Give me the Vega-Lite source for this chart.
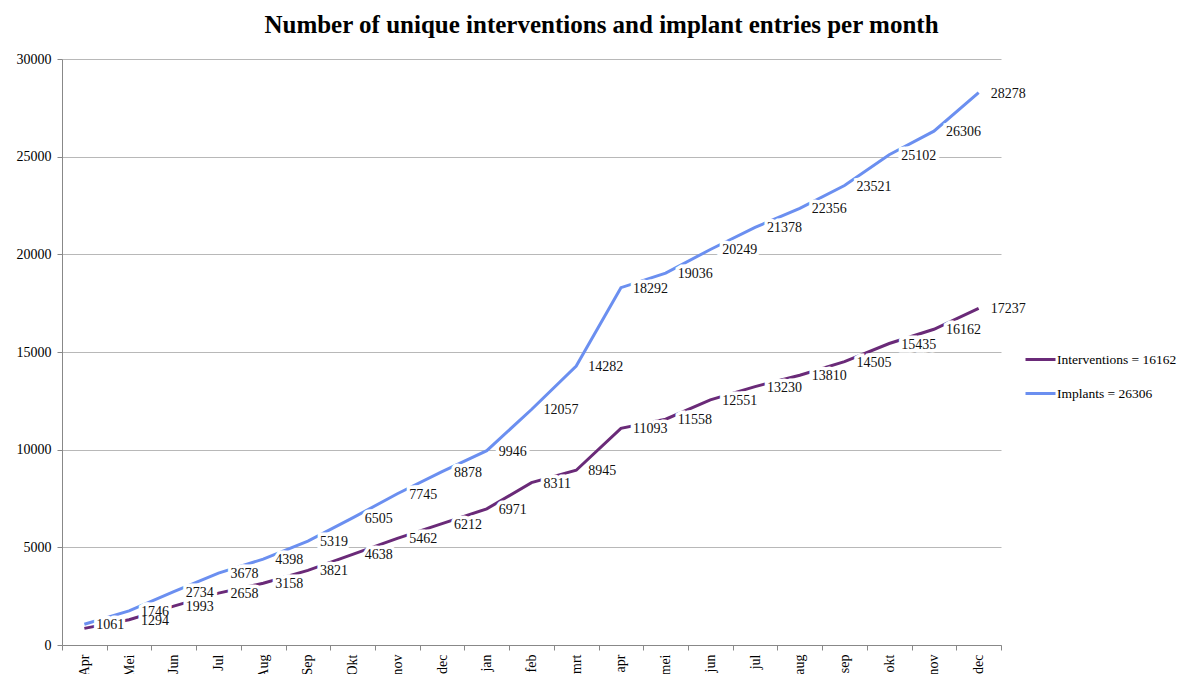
{
  "$schema": "https://vega.github.io/schema/vega-lite/v6.json",
  "autosize": {"type": "none"},
  "width": 939,
  "height": 586,
  "padding": {"left": 62, "top": 59, "right": 183, "bottom": 29},
  "background": "white",
  "title": {
    "text": "Number of unique interventions and implant entries per month",
    "font": "Liberation Serif",
    "fontSize": 25,
    "fontWeight": "bold",
    "color": "#000000",
    "anchor": "middle",
    "dx": 70,
    "offset": 14
  },
  "config": {
    "view": {"stroke": null},
    "font": "Liberation Serif"
  },
  "data": {
    "values": [
      {"i": 0, "month": "Apr", "series": "Interventions", "value": 850, "show": false},
      {"i": 1, "month": "Mei", "series": "Interventions", "value": 1294, "show": true},
      {"i": 2, "month": "Jun", "series": "Interventions", "value": 1993, "show": true},
      {"i": 3, "month": "Jul", "series": "Interventions", "value": 2658, "show": true},
      {"i": 4, "month": "Aug", "series": "Interventions", "value": 3158, "show": true},
      {"i": 5, "month": "Sep", "series": "Interventions", "value": 3821, "show": true},
      {"i": 6, "month": "Okt", "series": "Interventions", "value": 4638, "show": true},
      {"i": 7, "month": "nov", "series": "Interventions", "value": 5462, "show": true},
      {"i": 8, "month": "dec", "series": "Interventions", "value": 6212, "show": true},
      {"i": 9, "month": "jan", "series": "Interventions", "value": 6971, "show": true},
      {"i": 10, "month": "feb", "series": "Interventions", "value": 8311, "show": true},
      {"i": 11, "month": "mrt", "series": "Interventions", "value": 8945, "show": true},
      {"i": 12, "month": "apr", "series": "Interventions", "value": 11093, "show": true},
      {"i": 13, "month": "mei", "series": "Interventions", "value": 11558, "show": true},
      {"i": 14, "month": "jun", "series": "Interventions", "value": 12551, "show": true},
      {"i": 15, "month": "jul", "series": "Interventions", "value": 13230, "show": true},
      {"i": 16, "month": "aug", "series": "Interventions", "value": 13810, "show": true},
      {"i": 17, "month": "sep", "series": "Interventions", "value": 14505, "show": true},
      {"i": 18, "month": "okt", "series": "Interventions", "value": 15435, "show": true},
      {"i": 19, "month": "nov", "series": "Interventions", "value": 16162, "show": true},
      {"i": 20, "month": "dec", "series": "Interventions", "value": 17237, "show": true},
      {"i": 0, "month": "Apr", "series": "Implants", "value": 1061, "show": true},
      {"i": 1, "month": "Mei", "series": "Implants", "value": 1746, "show": true},
      {"i": 2, "month": "Jun", "series": "Implants", "value": 2734, "show": true},
      {"i": 3, "month": "Jul", "series": "Implants", "value": 3678, "show": true},
      {"i": 4, "month": "Aug", "series": "Implants", "value": 4398, "show": true},
      {"i": 5, "month": "Sep", "series": "Implants", "value": 5319, "show": true},
      {"i": 6, "month": "Okt", "series": "Implants", "value": 6505, "show": true},
      {"i": 7, "month": "nov", "series": "Implants", "value": 7745, "show": true},
      {"i": 8, "month": "dec", "series": "Implants", "value": 8878, "show": true},
      {"i": 9, "month": "jan", "series": "Implants", "value": 9946, "show": true},
      {"i": 10, "month": "feb", "series": "Implants", "value": 12057, "show": true},
      {"i": 11, "month": "mrt", "series": "Implants", "value": 14282, "show": true},
      {"i": 12, "month": "apr", "series": "Implants", "value": 18292, "show": true},
      {"i": 13, "month": "mei", "series": "Implants", "value": 19036, "show": true},
      {"i": 14, "month": "jun", "series": "Implants", "value": 20249, "show": true},
      {"i": 15, "month": "jul", "series": "Implants", "value": 21378, "show": true},
      {"i": 16, "month": "aug", "series": "Implants", "value": 22356, "show": true},
      {"i": 17, "month": "sep", "series": "Implants", "value": 23521, "show": true},
      {"i": 18, "month": "okt", "series": "Implants", "value": 25102, "show": true},
      {"i": 19, "month": "nov", "series": "Implants", "value": 26306, "show": true},
      {"i": 20, "month": "dec", "series": "Implants", "value": 28278, "show": true}
    ]
  },
  "encoding": {
    "x": {
      "field": "i",
      "type": "ordinal",
      "scale": {"paddingInner": 0, "paddingOuter": 0},
      "axis": {
        "title": null,
        "labelExpr": "['Apr','Mei','Jun','Jul','Aug','Sep','Okt','nov','dec','jan','feb','mrt','apr','mei','jun','jul','aug','sep','okt','nov','dec'][datum.value]",
        "labelAngle": -90,
        "labelFont": "Liberation Serif",
        "labelFontSize": 14,
        "labelColor": "#000000",
        "labelPadding": 4,
        "tickBand": "extent",
        "tickColor": "#888888",
        "tickSize": 5,
        "domainColor": "#888888",
        "grid": false
      }
    },
    "y": {
      "field": "value",
      "type": "quantitative",
      "scale": {"domain": [0, 30000], "nice": false},
      "axis": {
        "title": null,
        "values": [0, 5000, 10000, 15000, 20000, 25000, 30000],
        "format": "d",
        "labelFont": "Liberation Serif",
        "labelFontSize": 14,
        "labelColor": "#000000",
        "labelPadding": 6,
        "tickColor": "#888888",
        "tickSize": 5,
        "domainColor": "#888888",
        "gridColor": "#b8b8b8",
        "gridWidth": 1
      }
    }
  },
  "layer": [
    {
      "mark": {"type": "line", "strokeWidth": 3, "interpolate": "linear"},
      "encoding": {
        "color": {
          "field": "series",
          "type": "nominal",
          "scale": {"domain": ["Interventions", "Implants"], "range": ["#6a2a78", "#6b8ff0"]},
          "legend": {
            "title": null,
            "orient": "none",
            "legendX": 962,
            "legendY": 284,
            "symbolType": "stroke",
            "symbolSize": 900,
            "symbolStrokeWidth": 3,
            "labelFont": "Liberation Serif",
            "labelFontSize": 13.5,
            "labelColor": "#000000",
            "labelExpr": "datum.label == 'Interventions' ? 'Interventions = 16162' : 'Implants = 26306'",
            "rowPadding": 11,
            "labelOffset": 0
          }
        }
      }
    },
    {
      "transform": [{"filter": "datum.show"}],
      "mark": {"type": "text", "align": "left", "baseline": "middle", "dx": 12, "dy": 1, "font": "Liberation Serif", "fontSize": 14, "stroke": "white", "strokeWidth": 7, "fill": "white"},
      "encoding": {"text": {"field": "value", "type": "quantitative", "format": "d"}}
    },
    {
      "transform": [{"filter": "datum.show"}],
      "mark": {"type": "text", "align": "left", "baseline": "middle", "dx": 12, "dy": 1, "font": "Liberation Serif", "fontSize": 14, "fill": "#111111"},
      "encoding": {"text": {"field": "value", "type": "quantitative", "format": "d"}}
    }
  ]
}
